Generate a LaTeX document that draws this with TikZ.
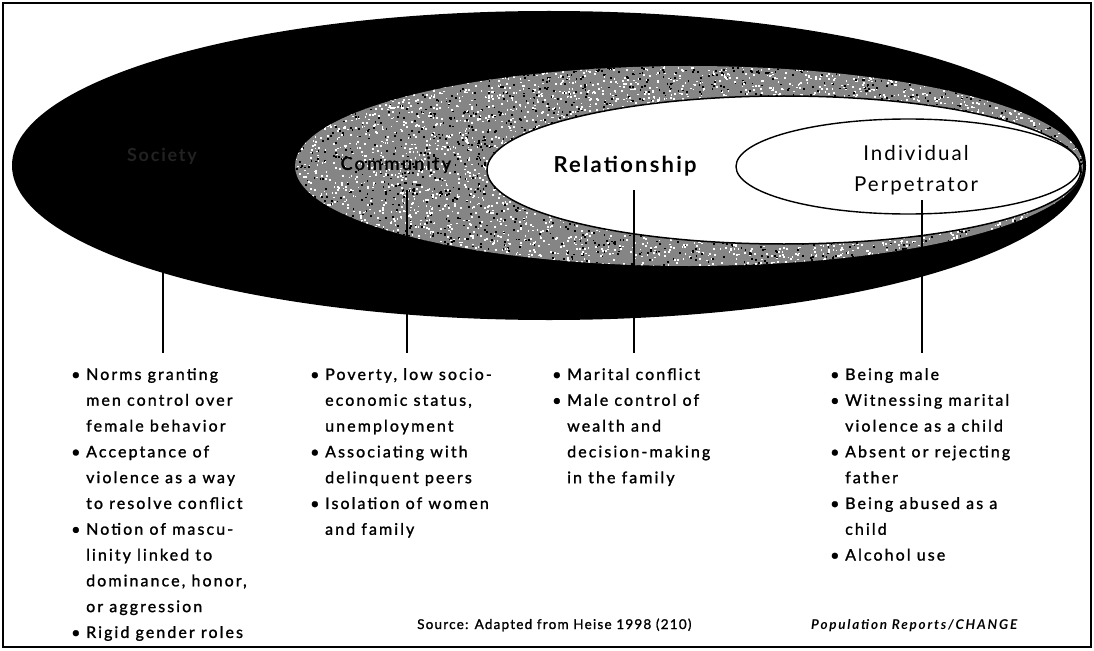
\documentclass[tikz,border=0pt]{standalone}
\usepackage{fontspec}
\setmainfont[LetterSpace=13, UprightFeatures={FakeBold=1.3}]{Lato}
\newfontfamily\titlefont[LetterSpace=10]{Lato}
\newfontfamily\srcfont[LetterSpace=9, UprightFeatures={FakeBold=1.3}]{Lato}
\newfontfamily\popfont[LetterSpace=13]{Lato}
\usetikzlibrary{calc}
\definecolor{socgray}{HTML}{222222}
\definecolor{ringgray}{HTML}{858585}
\newcommand\lbul{\makebox[15pt][l]{•}}
\newcommand\lind{\hspace*{15pt}}
\tikzset{
  lst/.style={align=left, inner sep=0pt, anchor=north west, font=\fontsize{16}{25.8}\selectfont},
  conn/.style={line width=2pt, shorten >=15pt},
  lab/.style={inner sep=1pt, anchor=base}
}
\begin{document}
\begin{tikzpicture}[x=1pt,y=-1pt]
\useasboundingbox (0,0) rectangle (1094,650);
\fill[white] (0,0) rectangle (1094,650);
\draw[line width=2.5pt] (3,3) rectangle (1091,647);
% society
\fill[black] (549,165.5) ellipse [x radius=537pt, y radius=154.5pt];
% community ring
\begin{scope}
\clip (689,166) ellipse [x radius=394pt, y radius=100pt];
\fill[ringgray] (290,60) rectangle (1090,272);
\pgfmathsetseed{7}
\foreach \i in {1,...,2500}{
  \pgfmathsetmacro\px{295+790*rnd}\pgfmathsetmacro\py{66+200*rnd}
  \fill[white] (\px,\py) rectangle ++(1.8,1.8);
  \pgfmathsetmacro\rx{295+790*rnd}\pgfmathsetmacro\ry{66+200*rnd}
  \fill[white] (\rx,\ry) rectangle ++(1.6,1.6);
  \pgfmathsetmacro\qx{295+790*rnd}\pgfmathsetmacro\qy{66+200*rnd}
  \fill[black] (\qx,\qy) rectangle ++(1.8,1.8);
}
\end{scope}
% relationship
\filldraw[fill=white, draw=black, line width=1.5pt] (784,170) ellipse [x radius=297pt, y radius=74pt];
% individual
\filldraw[fill=white, draw=black, line width=1.4pt] (908,166.5) ellipse [x radius=172pt, y radius=47.5pt];
% labels
\node[lab, text=socgray, font=\titlefont\bfseries\fontsize{18}{20}\selectfont] (soc) at (162,161) {Society};
\node[lab, text=black, font=\titlefont\bfseries\fontsize{18.5}{20}\selectfont] (com) at (396,170) {Community};
\node[lab, font=\titlefont\bfseries\fontsize{22}{24}\selectfont] (rel) at (625,172) {Relationship};
\node[lab, font=\titlefont\fontsize{20.5}{24}\selectfont] (ind1) at (916,160) {Individual};
\node[lab, font=\titlefont\fontsize{20.5}{24}\selectfont] (ind2) at (916,191) {Perpetrator};
% lists
\node[lst] (lst1) at (71,368) {\lbul Norms granting\\ \lind men control over\\ \lind female behavior\\ \lbul Acceptance of\\ \lind violence as a way\\ \lind to resolve conflict\\ \lbul Notion of mascu-\\ \lind linity linked to\\ \lind dominance, honor,\\ \lind or aggression\\ \lbul Rigid gender roles};
\node[lst] (lst2) at (310,368) {\lbul Poverty, low socio-\\ \lind economic status,\\ \lind unemployment\\ \lbul Associating with\\ \lind delinquent peers\\ \lbul Isolation of women\\ \lind and family};
\node[lst] (lst3) at (552,368) {\lbul Marital conflict\\ \lbul Male control of\\ \lind wealth and\\ \lind decision-making\\ \lind in the family};
\node[lst] (lst4) at (830,368) {\lbul Being male\\ \lbul Witnessing marital\\ \lind violence as a child\\ \lbul Absent or rejecting\\ \lind father\\ \lbul Being abused as a\\ \lind child\\ \lbul Alcohol use};
% connectors
\coordinate (socl) at ($(soc.base)+(1,32)$);
\coordinate (coml) at ($(com.base)+(11,20)$);
\coordinate (rell) at ($(rel.base)+(9,18)$);
\coordinate (indl) at ($(ind2.base)+(6,9)$);
\draw[conn] (socl) -- (socl |- lst1.north);
\draw[conn] (coml) -- (coml |- lst2.north);
\draw[conn] (rell) -- (rell |- lst3.north);
\draw[conn] (indl) -- (indl |- lst4.north);
% source
\node[inner sep=0pt, anchor=base west, font=\srcfont\fontsize{13.5}{15}\selectfont] (src) at (417,629) {Source: Adapted from Heise 1998 (210)};
\node[inner sep=0pt, anchor=base west, font=\popfont\bfseries\itshape\fontsize{13.5}{15}\selectfont] (pop) at (811,629) {Population Reports/CHANGE};
\end{tikzpicture}
\end{document}
